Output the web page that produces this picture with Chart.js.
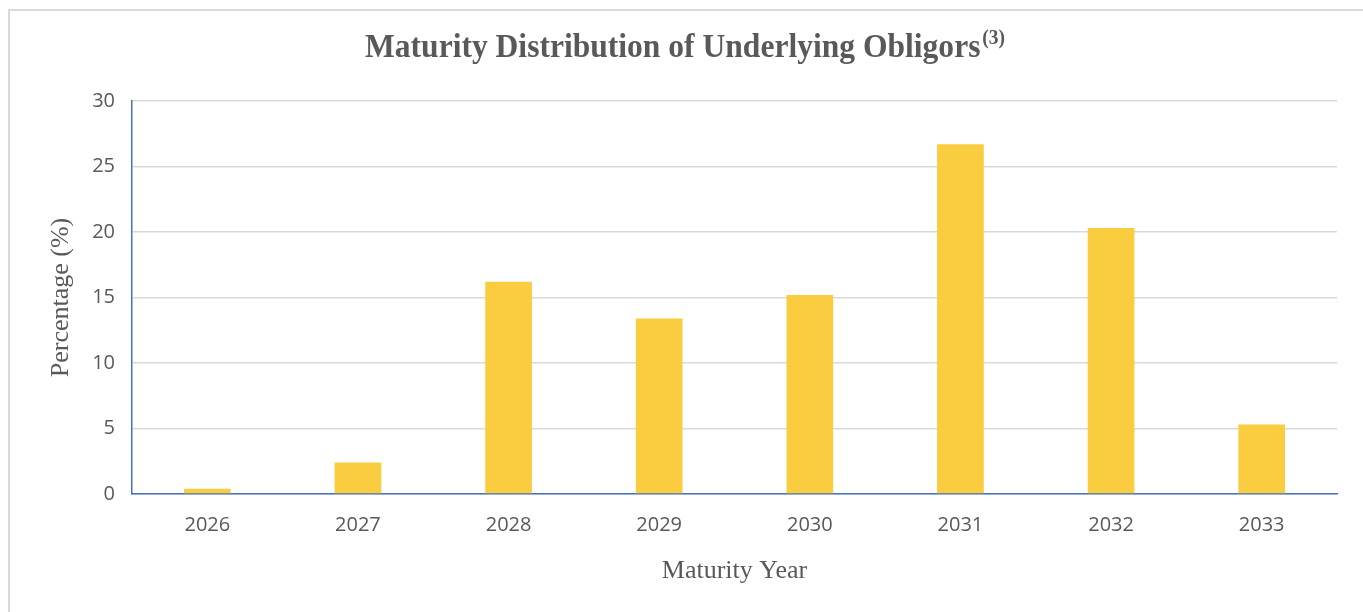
<!DOCTYPE html>
<html>
<head>
<meta charset="utf-8">
<title>Maturity Distribution of Underlying Obligors</title>
<script src="https://cdn.jsdelivr.net/npm/chart.js@4"></script>
<style>
  html, body { margin: 0; padding: 0; background: #fff; }
  #wrap { position: relative; width: 1363px; height: 612px; overflow: hidden; }
  #frame {
    position: absolute; left: 8px; top: 9px; right: -4px; bottom: -4px;
    border-left: 2px solid #d9d9d9; border-top: 2px solid #d9d9d9;
  }
  #chart { position: absolute; left: 0; top: 0; }
</style>
</head>
<body>
<div id="wrap">
  <div id="frame"></div>
  <canvas id="chart" width="1363" height="612"></canvas>
</div>
<script>
// ===== Data =====
const years = ['2026', '2027', '2028', '2029', '2030', '2031', '2032', '2033'];
const shares = [0.4, 2.4, 16.2, 13.4, 15.2, 26.7, 20.3, 5.3];
const yTicks = [0, 5, 10, 15, 20, 25, 30];

const titleMain = 'Maturity Distribution of Underlying Obligors';
const titleNote = '(3)';

const textGrey = '#595959';

// ===== Title with superscript note =====
// the source title is a tall, slightly condensed Times bold, so squeeze it horizontally
const titlePlugin = {
  id: 'supTitle',
  afterDraw(chart) {
    const ctx = chart.ctx;
    const mainFont = 'bold 34px "Liberation Serif", "Times New Roman", serif';
    const noteFont = 'bold 21px "Liberation Serif", "Times New Roman", serif';
    ctx.save();
    ctx.fillStyle = textGrey;
    ctx.textBaseline = 'alphabetic';
    ctx.font = mainFont;
    const w1 = ctx.measureText(titleMain).width;
    ctx.font = noteFont;
    const w2 = ctx.measureText(titleNote).width;
    const sx = 640 / (w1 + w2 + 2);
    ctx.translate(365, 0);
    ctx.scale(sx, 1);
    ctx.font = mainFont;
    ctx.fillText(titleMain, 0, 57);
    ctx.font = noteFont;
    ctx.fillText(titleNote, w1 + 2, 44);
    ctx.restore();
  }
};

// ===== Chart =====
new Chart(document.getElementById('chart'), {
  type: 'bar',
  data: {
    labels: years,
    datasets: [{
      label: 'Percentage',
      data: shares,
      backgroundColor: '#F9CD3F',
      borderWidth: 0,
      categoryPercentage: 1,
      barPercentage: 0.31
    }]
  },
  options: {
    responsive: false,
    animation: false,
    layout: { padding: { top: 101, left: 40, right: 26, bottom: 0 } },
    plugins: {
      legend: { display: false },
      title: { display: false },
      tooltip: { enabled: false }
    },
    scales: {
      x: {
        grid: { display: false, drawTicks: false },
        border: { color: '#4472C4', width: 1.5 },
        ticks: { color: textGrey, padding: 19, font: { family: '"Open Sans", sans-serif', size: 20 } },
        title: {
          display: true,
          text: 'Maturity Year',
          color: textGrey,
          padding: { top: 0, bottom: 25 },
          font: { family: '"Liberation Serif", "Times New Roman", serif', size: 26 }
        },
        afterFit(scale) { scale.height = 118; }
      },
      y: {
        min: 0,
        max: 30,
        afterBuildTicks(scale) { scale.ticks = yTicks.map(v => ({ value: v })); },
        grid: { color: '#d9d9d9', lineWidth: 1.5, drawTicks: false },
        border: { color: '#4472C4', width: 1.5 },
        ticks: { color: textGrey, padding: 17, font: { family: '"Open Sans", sans-serif', size: 20 } },
        title: {
          display: true,
          text: 'Percentage (%)',
          color: textGrey,
          padding: { top: 6, bottom: 0 },
          font: { family: '"Liberation Serif", "Times New Roman", serif', size: 26 }
        },
        afterFit(scale) { scale.width = 92; }
      }
    }
  },
  plugins: [titlePlugin]
});
</script>
</body>
</html>
